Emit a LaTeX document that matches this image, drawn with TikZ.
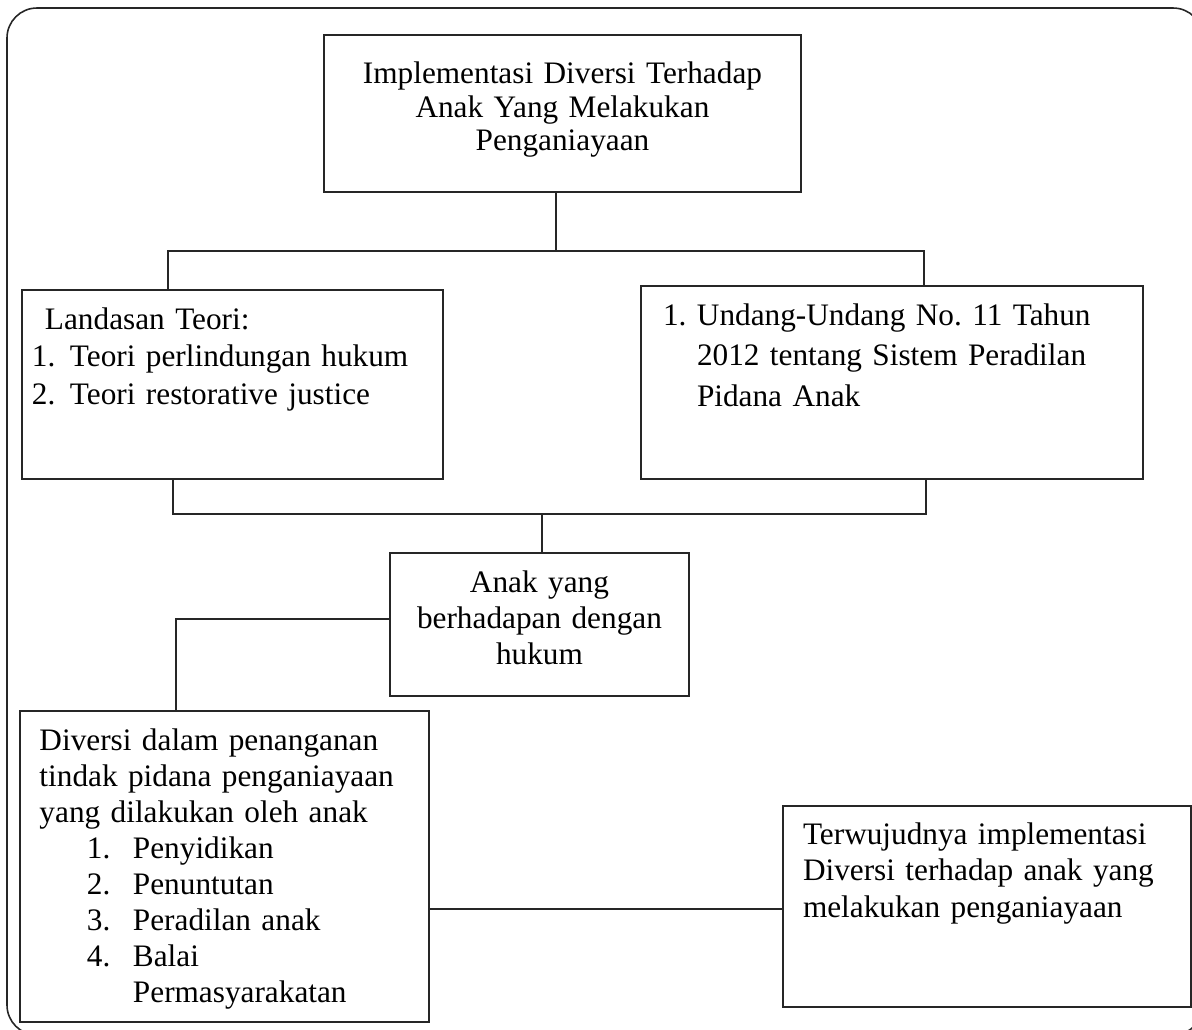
\documentclass[tikz,border=0pt]{standalone}
\usepackage{fontspec}
\setmainfont{Liberation Serif}

\tikzset{
	kotak/.style={draw=black!85, line width=0.9pt, anchor=north west, inner ysep=0pt, outer sep=0pt, text height=0.78cm},
	garis/.style={black!85, line width=0.9pt},
}

\begin{document}
\begin{tikzpicture}[x=0.02cm, y=-0.02cm]
\useasboundingbox (0,0) rectangle (1192,1029);
\draw[garis, rounded corners=0.6cm] (7,8) rectangle (1203,1035);

% kotak-kotak
\node[kotak, inner xsep=0.2cm, text width=9.14cm, text height=0.98cm, text depth=2.16cm, align=center, font=\fontsize{17.8}{18.8}\selectfont] (judul) at (324,35) {
	Implementasi Diversi Terhadap\\ Anak Yang Melakukan\\ Penganiayaan};

\node[kotak, inner xsep=0.2cm, text width=8.02cm, text depth=3cm, align=left, font=\fontsize{17.8}{21.6}\selectfont] (teori) at (22,290) {
	\hspace*{0.26cm}Landasan Teori:\\
	\makebox[0.76cm][l]{1.}Teori perlindungan hukum\\
	\makebox[0.76cm][l]{2.}Teori restorative justice};

\node[kotak, inner xsep=0.44cm, text width=9.16cm, text depth=3.08cm, align=left, font=\fontsize{17.8}{23.3}\selectfont] (uu) at (641,286) {
	\makebox[0.68cm][l]{1.}Undang-Undang No.\ 11 Tahun\\
	\hspace*{0.68cm}2012 tentang Sistem Peradilan\\
	\hspace*{0.68cm}Pidana Anak};

\node[kotak, inner xsep=0.2cm, text width=5.58cm, text depth=2.08cm, align=center, font=\fontsize{17.8}{20.5}\selectfont] (anak) at (390,553) {
	Anak yang\\ berhadapan dengan\\ hukum};

\node[kotak, inner xsep=0.39cm, text width=7.4cm, text depth=5.44cm, align=left, font=\fontsize{17.8}{20.5}\selectfont] (diversi) at (20,711) {
	\makebox[7.4cm][s]{Diversi dalam penanganan}\\
	\makebox[7.4cm][s]{tindak pidana penganiayaan}\\
	yang dilakukan oleh anak\\
	\hspace*{0.95cm}\makebox[0.92cm][l]{1.}Penyidikan\\
	\hspace*{0.95cm}\makebox[0.92cm][l]{2.}Penuntutan\\
	\hspace*{0.95cm}\makebox[0.92cm][l]{3.}Peradilan anak\\
	\hspace*{0.95cm}\makebox[0.92cm][l]{4.}Balai\\
	\hspace*{1.87cm}Permasyarakatan};

\node[kotak, inner xsep=0.4cm, text width=7.36cm, text height=0.76cm, text depth=3.26cm, align=left, font=\fontsize{17.8}{20.8}\selectfont] (hasil) at (783,806) {
	Terwujudnya implementasi\\ Diversi terhadap anak yang\\ melakukan penganiayaan};

% garis penghubung
\coordinate (pusat1) at (556,251);
\coordinate (kiri1) at (168,251);
\coordinate (kanan1) at (924,251);
\draw[garis] (judul.south -| pusat1) -- (pusat1);
\draw[garis] (teori.north -| kiri1) -- (kiri1) -- (kanan1) -- (uu.north -| kanan1);

\coordinate (pusat2) at (542,514);
\coordinate (kiri2) at (173,514);
\coordinate (kanan2) at (926,514);
\draw[garis] (teori.south -| kiri2) -- (kiri2) -- (kanan2) -- (uu.south -| kanan2);
\draw[garis] (pusat2) -- (anak.north -| pusat2);

\coordinate (kiri3) at (176,619);
\draw[garis] (anak.west |- kiri3) -- (kiri3) -- (diversi.north -| kiri3);

\coordinate (tengah4) at (600,909);
\draw[garis] (diversi.east |- tengah4) -- (hasil.west |- tengah4);
\end{tikzpicture}
\end{document}
